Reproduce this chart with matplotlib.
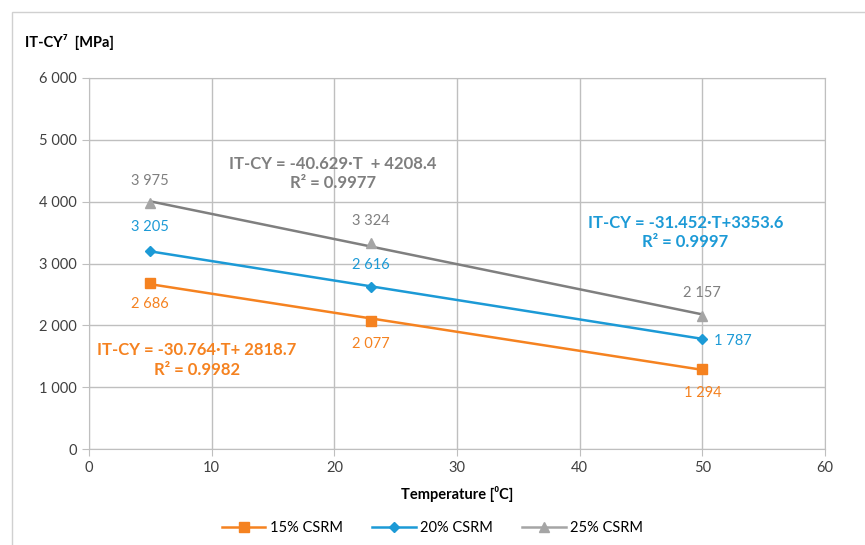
import numpy as np
import matplotlib
matplotlib.use("Agg")
import matplotlib.pyplot as plt
from matplotlib.patches import Rectangle

plt.rcParams['font.family'] = ['Lato', 'DejaVu Sans']

temps = [5, 23, 50]
csrm15 = [2686, 2077, 1294]
csrm20 = [3205, 2616, 1787]
csrm25 = [3975, 3324, 2157]
names = ['15% CSRM', '20% CSRM', '25% CSRM']
equations = ['IT-CY = -30.764·T+ 2818.7\nR² = 0.9982',
             'IT-CY = -31.452·T+3353.6\nR² = 0.9997',
             'IT-CY = -40.629·T  + 4208.4\nR² = 0.9977']

orange = '#F58220'
blue = '#1C9AD6'
grey_line = '#7F7F7F'
grey_mark = '#A5A5A5'


def fmt(v):
    return '{:,}'.format(v).replace(',', ' ')


fig = plt.figure(figsize=(8.65, 5.45), dpi=100)
ax = fig.add_axes([0.1029, 0.1761, 0.8509, 0.6808])

# frame around the chart
fig.patches.append(Rectangle((12 / 865, -0.1), 1.2, 1 - 12 / 545 + 0.1,
                             transform=fig.transFigure, fill=False,
                             edgecolor='#d0d0d0', lw=1))

t = np.array(temps)
series = [(csrm15, orange, orange, 's', 7),
          (csrm20, blue, blue, 'D', 5.5),
          (csrm25, grey_line, grey_mark, '^', 7.5)]
for (vals, lc, mc, mk, ms), name in zip(series, names):
    k, b = np.polyfit(t, vals, 1)
    ax.plot([t[0], t[-1]], [k * t[0] + b, k * t[-1] + b], color=lc, lw=1.8, zorder=3)
    ax.plot(t, vals, linestyle='none', marker=mk, ms=ms, color=mc, zorder=4)
    ax.plot([], [], color=lc if mk != '^' else grey_mark, lw=1.8, marker=mk,
            ms=ms, mfc=mc, mec=mc, label=name)

lab_kw = dict(fontsize=10.5, ha='center', va='center')
# 15% labels below
offs15 = [-15, -17, -17]
for x, v, o in zip(temps, csrm15, offs15):
    ax.annotate(fmt(v), (x, v), xytext=(0, o), textcoords='offset points',
                color=orange, **lab_kw)
# 20% labels
ax.annotate(fmt(csrm20[0]), (temps[0], csrm20[0]), xytext=(0, 17),
            textcoords='offset points', color=blue, **lab_kw)
ax.annotate(fmt(csrm20[1]), (temps[1], csrm20[1]), xytext=(0, 16),
            textcoords='offset points', color=blue, **lab_kw)
ax.annotate(fmt(csrm20[2]), (temps[2], csrm20[2]), xytext=(22, -2),
            textcoords='offset points', color=blue, **lab_kw)
# 25% labels above
for x, v in zip(temps, csrm25):
    ax.annotate(fmt(v), (x, v), xytext=(0, 16), textcoords='offset points',
                color=grey_line, **lab_kw)

eq_kw = dict(fontsize=12, fontweight='bold', ha='center', va='center',
             linespacing=1.25, multialignment='center')
ax.text(8.8, 1440, equations[0], color=orange, **eq_kw)
ax.text(48.6, 3500, equations[1], color=blue, **eq_kw)
ax.text(19.9, 4450, equations[2], color=grey_line, **eq_kw)

ax.set_xlim(0, 60)
ax.set_ylim(0, 6000)
ax.set_xticks(range(0, 61, 10))
ax.set_yticks(range(0, 6001, 1000))
ax.set_yticklabels([fmt(v) for v in range(0, 6001, 1000)])
ax.grid(True, color='#BFBFBF', lw=1)
ax.set_axisbelow(True)
for s in ax.spines.values():
    s.set_color('#BFBFBF')
ax.tick_params(axis='both', colors='#BFBFBF', labelcolor='#404040',
               labelsize=10.5, length=5)
ax.tick_params(axis='y', pad=4)

ax.set_xlabel('Temperature [⁰C]', fontsize=10.5, fontweight='bold', labelpad=8)
fig.text(25 / 865, 1 - 42 / 545, 'IT-CY⁷  [MPa]', fontsize=10.5,
         fontweight='bold', va='center', ha='left')

fig.legend(loc='center', bbox_to_anchor=(0.5, 1 - 528 / 545), ncol=3,
           frameon=False, fontsize=10.5, handlelength=3, columnspacing=2,
           handletextpad=0.3)

fig.savefig('out.png', dpi=100)
